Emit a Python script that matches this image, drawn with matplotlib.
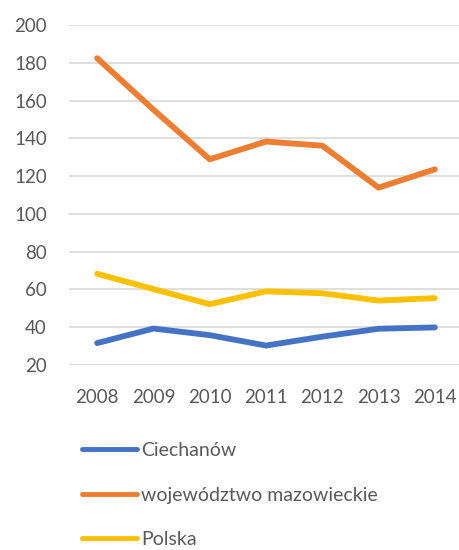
import matplotlib
matplotlib.use("Agg")
import matplotlib.pyplot as plt

years = ["2008", "2009", "2010", "2011", "2012", "2013", "2014"]
ciechanow = [31.6, 39.3, 35.8, 30.3, 35.0, 39.2, 39.9]
mazowieckie = [182.4, 155.2, 128.9, 138.3, 136.1, 113.9, 123.6]
polska = [68.3, 60.2, 52.2, 59.0, 58.0, 54.1, 55.4]
yticks = [20, 40, 60, 80, 100, 120, 140, 160, 180, 200]

plt.rcParams['font.family'] = ['Lato', 'DejaVu Sans']
txt = '#595959'

fig = plt.figure(figsize=(4.59, 5.5), dpi=100)
ax = fig.add_axes([69/459, 1-365/550, (463-69)/459, (365-25)/550])
x = list(range(len(years)))
ax.plot(x, ciechanow, color='#4472C4', lw=4.2, label='Ciechanów', solid_capstyle='round', solid_joinstyle='round')
ax.plot(x, mazowieckie, color='#ED7D31', lw=4.2, label='województwo mazowieckie', solid_capstyle='round', solid_joinstyle='round')
ax.plot(x, polska, color='#FFC000', lw=4.2, label='Polska', solid_capstyle='round', solid_joinstyle='round')

ax.set_xlim(-0.5, 6.5)
ax.set_ylim(20, 200)
ax.set_yticks(yticks)
ax.set_xticks(x)
ax.set_xticklabels(years)
ax.grid(axis='y', color='#D9D9D9', lw=1.2)
ax.set_axisbelow(True)
for s in ax.spines.values():
    s.set_visible(False)
ax.tick_params(axis='both', length=0, labelsize=13.5, labelcolor=txt)
ax.tick_params(axis='y', pad=16)
ax.tick_params(axis='x', pad=17)

leg = fig.legend(loc='upper left', bbox_to_anchor=(82/459, 1-442/550), frameon=False,
                 borderpad=0, borderaxespad=0, handlelength=2.85, handletextpad=0.2,
                 labelspacing=1.42, fontsize=14)
for t in leg.get_texts():
    t.set_color(txt)
for l in leg.get_lines():
    l.set_linewidth(3.5)

fig.savefig('out.png', dpi=100)
